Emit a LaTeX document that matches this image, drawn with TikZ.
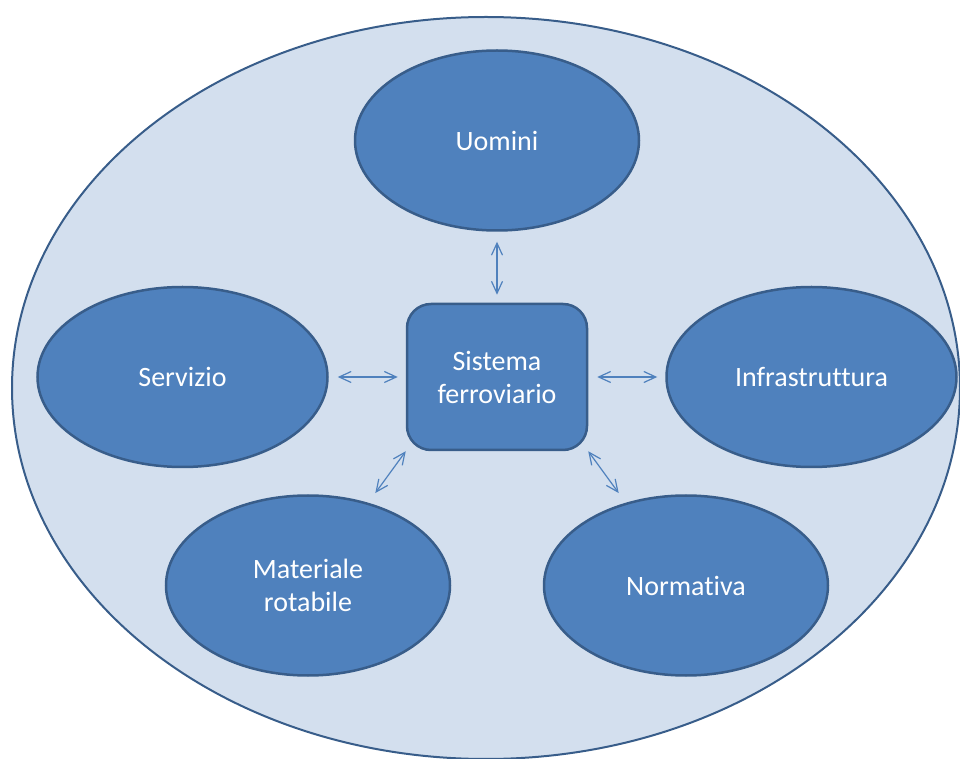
\documentclass[tikz,border=0pt]{standalone}
\usepackage{fontspec}
\setmainfont[Ligatures=NoCommon]{Carlito}
\usetikzlibrary{
  positioning,
  arrows.meta,
  shapes.geometric
}
\definecolor{nodoBlu}{HTML}{4F81BD}
\definecolor{bordoBlu}{HTML}{385D8A}
\definecolor{sfondoBlu}{HTML}{D3DFEE}

\begin{document}
\begin{tikzpicture}[
    x=0.5pt,y=-0.5pt,
    >={Straight Barb[length=6pt,width=5.5pt]},
    sfondo/.style={
      ellipse,
      draw=bordoBlu,
      fill=sfondoBlu,
      line width=1pt,
      minimum width=474pt,
      minimum height=371pt
    },
    ramo/.style={
      ellipse,
      draw=bordoBlu,
      fill=nodoBlu,
      line width=1.25pt,
      text=white,
      align=center,
      inner sep=0pt,
      minimum width=142pt,
      minimum height=90pt
    },
    centro/.style={
      rectangle,
      rounded corners=12pt,
      draw=bordoBlu,
      fill=nodoBlu,
      line width=1.25pt,
      text=white,
      align=center,
      inner sep=0pt,
      minimum width=90pt,
      minimum height=73pt
    },
    legame/.style={
      <->,
      draw=nodoBlu,
      line width=0.6pt
    }
  ]
  \fontsize{14}{16.5}\selectfont
  \newcommand{\vGap}{35.5pt}
  \newcommand{\hGap}{38.5pt}
  \newcommand{\dGap}{21.5pt}
  \newcommand{\dShift}{94.5pt}

  \useasboundingbox (0,0) rectangle (960,759);

  % Background
  \node[sfondo] (insieme) at (486,388) {};

  % Centre
  \node[centro] (sistema) at (497,377) {Sistema\\ferroviario};

  % Components
  \node[ramo, above=\vGap of sistema] (uomini) {Uomini};
  \node[ramo, left=\hGap of sistema, minimum width=145pt] (servizio) {Servizio};
  \node[ramo, right=\hGap of sistema, minimum width=145pt] (infra) {Infrastruttura};
  \node[ramo, below=\dGap of sistema, xshift=-\dShift] (materiale) {Materiale\\rotabile};
  \node[ramo, below=\dGap of sistema, xshift=\dShift] (normativa) {Normativa};

  % Connections
  \draw[legame, shorten <=4pt, shorten >=5pt] (sistema) -- (uomini);
  \draw[legame, shorten <=4pt, shorten >=4.5pt] (sistema) -- (servizio);
  \draw[legame, shorten <=4.5pt, shorten >=4pt] (sistema) -- (infra);
  \draw[legame, shorten >=6pt] (sistema.south west) -- (materiale);
  \draw[legame, shorten >=6pt] (sistema.south east) -- (normativa);
\end{tikzpicture}
\end{document}
